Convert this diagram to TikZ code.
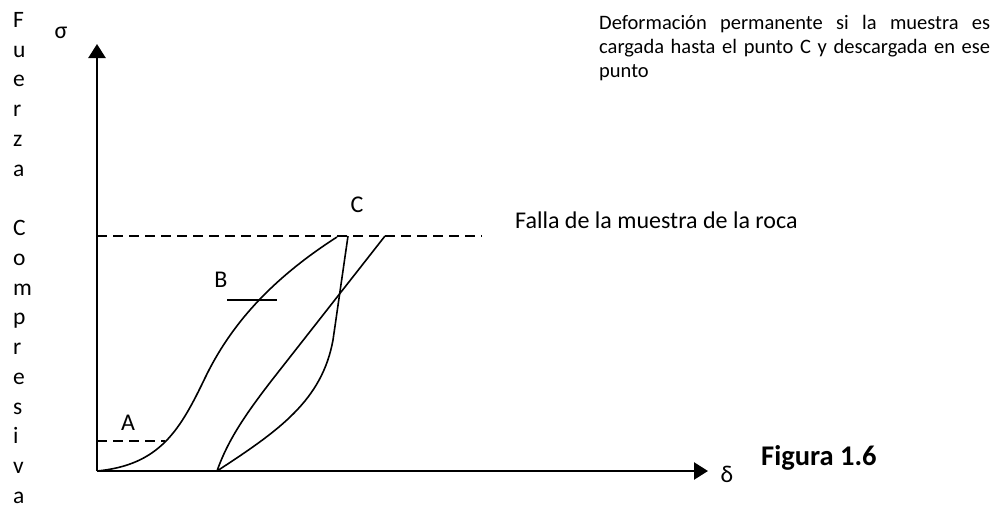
\documentclass[tikz,border=0pt]{standalone}
\usepackage{fontspec}
\setmainfont{Carlito}
\usepackage{tikz}
\usetikzlibrary{arrows.meta,positioning}
\hyphenpenalty=10000
\tikzset{
  axis/.style   = {line width=2.4pt, -{Triangle[length=14pt,width=17pt]}},
  curve/.style  = {line width=1.6pt},
  guide/.style  = {line width=1.6pt, dash pattern=on 10pt off 6pt},
  tick/.style   = {line width=1.4pt},
  label/.style  = {inner sep=0pt, font=\fontsize{24}{28}\selectfont}
}

\begin{document}
\begin{tikzpicture}[x=1pt,y=-1pt]
\useasboundingbox (0,0) rectangle (999,506);
% axes
\coordinate (O) at (97,471);
\coordinate (ytop) at (97,44);
\coordinate (xend) at (708,471);
\draw[axis] (O) -- (ytop);
\draw[axis] (O) -- (xend);
\node[label] (sigma) at (61,33) {σ};
\node[label] (delta) at (727,474) {δ};
% vertical axis title
\node[label, anchor=north west, align=left, font=\fontsize{23.5}{29.75}\selectfont]
  (title) at (13,12) {F\\u\\e\\r\\z\\a\\\mbox{}\\C\\o\\m\\p\\r\\e\\s\\i\\v\\a};
% key points
\coordinate (Ayl) at (97,441);
\coordinate (Aend) at (165,441);
\coordinate (Cyl) at (97,236);
\coordinate (Cend) at (482,236);
\coordinate (Cpk) at (337,237);
\coordinate (Ctop) at (348,236);
\coordinate (Rtop) at (385,236);
\coordinate (P) at (217,471);
\coordinate (Bl) at (227,300);
\coordinate (Br) at (277,300);
% guide lines
\draw[guide] (Ayl) -- (Aend);
\draw[guide] (Cyl) -- (Cend);
\draw[tick] (Bl) -- (Br);
% loading, unloading, reloading
\draw[curve] (O) .. controls (160,465) and (180,430) .. (205,378)
                 .. controls (230,326) and (270,280) .. (Cpk);
\draw[curve] (Ctop) -- (333,340) .. controls (322,400) and (280,430) .. (P);
\draw[curve] (P) .. controls (228,440) and (245,415) .. (272,380) -- (Rtop);
% labels
\node[label] (lA) at (128,423) {A};
\node[label] (lB) at (221,280) {B};
\node[label] (lC) at (357,205) {C};
\node[label, anchor=base west] (falla) at (515,228) {Falla de la muestra de la roca};
\node[label, anchor=north west, text width=391pt, align=justify,
      font=\fontsize{20.5}{24}\selectfont] (nota) at (599,15)
  {Deformación permanente si la muestra es\linebreak cargada hasta el punto C y descargada en ese\linebreak punto};
\node[label, anchor=base west, font=\fontsize{28.5}{32}\bfseries] (fig) at (761,465) {Figura 1.6};
\end{tikzpicture}
\end{document}
